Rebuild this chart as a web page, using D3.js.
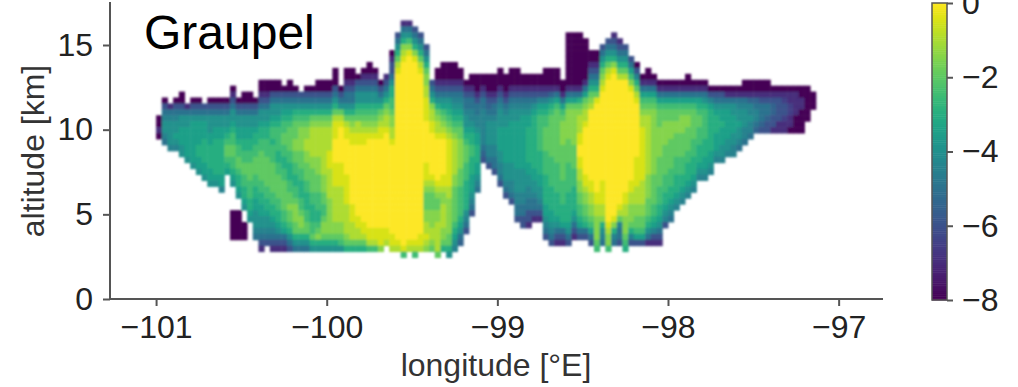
<!DOCTYPE html>
<html>
<head>
<meta charset="utf-8">
<script src="https://cdn.jsdelivr.net/npm/d3@7"></script>
<style>
  html, body { margin: 0; padding: 0; background: #fff; }
  text { font-family: "Liberation Sans", Arial, sans-serif; fill: #333; }
  .axis path, .axis line { stroke: #555; stroke-width: 2; }
  .axis text { font-size: 32px; fill: #222; }
</style>
</head>
<body>
<div id="chart"></div>
<script>
var title = "Graupel";
var xLabel = "longitude [°E]";
var yLabel = "altitude [km]";
var xTicks = [-101, -100, -99, -98, -97];
var yTicks = [0, 5, 10, 15];
var cbTicks = [0, -2, -4, -6, -8];

// cell grid of the section
var firstLon = -101.0;
var lonStep = 0.03333;
var firstAlt = 2.45;
var altStep = 0.35;

// a = -8 ... q = 0, half a unit per letter
var levelCodes = "abcdefghijklmnopq";

// row index above the top of each column
var columnTop = [24,27,26,27,28,26,27,27,26,27,27,27,27,29,27,28,28,27,30,30,30,30,29,30,29,28,29,29,30,30,
  30,32,29,32,32,31,32,33,32,30,31,35,38,40,40,39,38,36,30,32,33,33,33,32,30,31,31,31,31,31,
  32,31,32,32,31,31,31,31,32,32,32,30,38,38,38,37,35,35,36,37,38,37,36,34,33,31,32,31,30,30,
  30,30,30,31,30,30,30,29,29,29,29,29,29,30,30,30,30,30,29,29,29,29,29,29,29,28];

// log mixing ratio down each column, from its top
var columnValues = [
  "aaca","aeghiihg","cghiiiih","aeghiijih","aaegiijjjii","cgiijjjjji","aegijjjjjjji","aegijjjjkkjji",
  "egijjjkkkkjji","aegiiijjkkkkjji","aegiijjkkkkkkji","aegiijjkkkkkkjjh","aegiijklmmlkj","acegiijkllmmllkji",
  "aegiijjkllmmlkkji","aaegiijjkkllmmllkkji","aaegiijjkkllmmmlllkkji","aegiijkkllmmmllkkjjiiihg",
  "aacegiijkkllmmmmmllkkjjiihgec","aacegiijkklllmmmmmllkkjiihge","aaegiijkllklllmmmmmllkkjihgec",
  "aaegiijkllllkkllmmmmllkkjigec","aegijkllmmllkkllmmmmmllkjgec","aaegijklmmmmllkkkllmmnmmlkige",
  "aegiklmmmnnmmllkkllmnnnmmkig","egiklmnnnnmmmllkkkllmnnmkig","aegiklmnnoonnmmmllkkkllmmkig",
  "aegikmnooooonnmmmmllkkkllmki","aaegikmnooooonnnmmmlllkklmnki","aaegikmnoooooooonnnmmllmnnmki",
  "aaegikmnoooopppooooonnnnnnmki","aaaegikmopppqqqqppppoooooonnmki","aegimopqqqqqqppppoooooonnmli",
  "aaceggikmoppqqqqqqpppppooooonmk","aaceggikmnoppqqqqqqqqqqpppooomk","aegiiklmooppqqqqqqqqqqqqppoomk",
  "acegiiklmnoppqqqqqqqqqqqqqppomk","aacegiiklmnopqqqqqqqqqqqqqqqppol","acegiiklmnopqqqqqqqqqqqqqqqppol",
  "aegikmnoppqqqqqqqqqqqqqqqpppn","cegikmnoopqqqqqqqqqqqqqqqqppo","aceegikkllmnnoopqqqqqqqqqqqqqqqppo",
  "egikmopqqqqqqqqqqqqqqqqqqqqqqqqqqqqpo","cgiknopqqqqqqqqqqqqqqqqqqqqqqqqqqqqqqqpl","cgilnpqqqqqqqqqqqqqqqqqqqqqqqqqqqqqqqpo",
  "egiknpqqqqqqqqqqqqqqqqqqqqqqqqqqqqqqpol","egikmopqqqqqqqqqqqqqqqqqqqqqqqqqqqppo",
  "egikmnnooppppqqqqqqqppponmmmnnoopon","egiknooppqqqqqqqponmmmnnnoonm","aacegikmnoopqqqqqqqponmmnnooooom",
  "aaacegijlmnopqqqqqqpponnoooonnmk","aaacegijklmnoppppppppoonnnnnnmmki","aaaceghijklmnoooooonnmmmmmmlkjih",
  "aaceghijklmmnnnnnmmmlllllkjigf","acegghiijklmmmlllkkkkkihge","aacegghhijkkllkkkjjjihge","aaacegghhijjkkkjjihg",
  "aacegghhhhhhgfe","aaacefghiiiihhge","aaacegghiiiihhgge","aaaceghiiijjjjiihhge","aaaceghiijjjjjjiiihge",
  "aaaceghiijjjjjjjiiihhge","aaaceghiijjjjjjjjiiiihhgge","aaceghijjjjjjjjjiiiihhggee","aaceghijjkkkkkkjjiihhggeec",
  "aacegijkkkkkkkkkjjiihggec","aacehjkllllllkkkkjjiihgec","aaacehjkllmmmmllllkkkkkjjihge",
  "aaacfiklmmmmmmmlllllkkkkjjihge","aaacgjlmmmmmmmmmlllllkkkkjigec","aacgjlmnnnnmmmmmmllllkkkjgec",
  "aaaaaaaaacgjmnnnnnmmmmlllllkkkkkjige","aaaaaaaaacgjmnnnnnnmmmmlllkkkkjigec","aaaaaaaaacgkmnoooppqqppoonnmmllkjge",
  "aaaaaaacgjmnoopqqqqqqqqpponnmmlkge","aacegikmnoqqqqqqqqqqqqppoonnmljge","aacegikmpqqqqqqqqqqqqqqqppoonnnnml",
  "egikmnopqqqqqqqqqqqqqqqppppoonkihg",
  "egikmopqqq" + "qqqqqqqqqqqqqqqqqqqq" + "qponnl",
  "cegiknpqqq" + "qqqqqqqqqqqqqqqqqqqq" + "qpnkhg",
  "cegikmoqqq" + "qqqqqqqqqqqqqqqqq" + "qpomhgge",
  "egikmoqqqq" + "qqqqqqqqqqqqqqq" + "ppoonnnmlk",
  "egjlnpqqqq" + "qqqqqqqqqqq" + "ppoonnnmkhe",
  "aehkmopqqq" + "qqqqqqpppp" + "pooonnmmlje",
  "acgjlmnoop" + "ppppppppoo" + "oonnmmlje",
  "aacgjlmnoooooooooonnnnmmmlkigc","acgjlmnnnnnnnnnnnmmmmmllkjhec","acgjlmmmnnnnnmmmmmlllkkjigec",
  "acgjlmmnnnnmmmmmlllkkjihe","acgjlmmnnnmmmmmlllkkjihg","acgjlmmnnmmmmlllkkkjih","acgjlmnnnmmmmlllkkjih",
  "aacgjlmnnmmmmllkkkjih","acgjlmmmmmlllkkkjih","acgjklmmlllkkkjih","acgiklllllkkkjjih","aehjkkkkkkkjjih",
  "aegijkkkjjjih","aegijjkjjjiih","acgijjjjjiih","acgiijjjiihh","acghiijiihg","aacghiiihhg","aacfhhihhg",
  "aacfghhgf","aacegggfe","aaceggfee","aceffeec","aceeeecc","acdeedcc","accddcca","accccaaa","aaccaaaa","aaaaaa","aaa"
];

// the small patch left of the main body
var patchColumns = [13, 14, 15];
var patchBottom = [3, 3, 3];
var patchTop = [8, 8, 6];
var patchValue = -8;

var width = 1018, height = 387;
var margin = {left: 110, right: 135, top: 2, bottom: 88};

var xScale = d3.scaleLinear()
  .domain([-101.27, -96.74])
  .range([margin.left, width - margin.right]);

var yScale = d3.scaleLinear()
  .domain([0, 17.54])
  .range([height - margin.bottom, margin.top]);

var colorScale = d3.scaleSequential(d3.interpolateViridis).domain([-8, 0]);

var minus = function(d) { return String(d).replace("-", "\u2212"); };

var svg = d3.select("#chart").append("svg")
  .attr("width", width)
  .attr("height", height)
  .style("display", "block");

svg.append("defs").append("filter")
  .attr("id", "soft")
  .attr("x", "-5%").attr("y", "-5%")
  .attr("width", "110%").attr("height", "110%")
  .append("feGaussianBlur")
  .attr("stdDeviation", 1.1);

// flatten the columns to cells
var cells = [];
columnValues.forEach(function(col, c) {
  for (var i = 0; i < col.length; i++) {
    cells.push({c: c, r: columnTop[c] - 1 - i, v: levelCodes.indexOf(col[i]) * 0.5 - 8});
  }
});
patchColumns.forEach(function(c, i) {
  for (var r = patchBottom[i]; r < patchTop[i]; r++) {
    cells.push({c: c, r: r, v: patchValue});
  }
});

svg.append("g")
  .attr("filter", "url(#soft)")
  .selectAll("rect")
  .data(cells)
  .enter()
  .append("rect")
  .attr("x", function(d) { return xScale(firstLon + d.c * lonStep); })
  .attr("y", function(d) { return yScale(firstAlt + (d.r + 1) * altStep); })
  .attr("width", xScale(lonStep) - xScale(0) + 0.5)
  .attr("height", yScale(0) - yScale(altStep) + 0.5)
  .attr("fill", function(d) { return colorScale(d.v); });

var xAxis = d3.axisBottom(xScale)
  .tickValues(xTicks)
  .tickFormat(minus)
  .tickSize(7)
  .tickPadding(9);

var yAxis = d3.axisLeft(yScale)
  .tickValues(yTicks)
  .tickSize(7)
  .tickPadding(10);

svg.append("g")
  .attr("class", "axis")
  .attr("transform", "translate(0," + (height - margin.bottom) + ")")
  .call(xAxis)
  .call(function(g) { g.select(".domain").attr("d", "M" + margin.left + ",0H" + (width - margin.right)); });

svg.append("g")
  .attr("class", "axis")
  .attr("transform", "translate(" + margin.left + ",0)")
  .call(yAxis)
  .call(function(g) { g.select(".domain").attr("d", "M0," + margin.top + "V" + (height - margin.bottom)); });

svg.append("text")
  .attr("x", 144)
  .attr("y", 49)
  .style("font-size", "48px")
  .style("fill", "#000")
  .text(title);

svg.append("text")
  .attr("x", 496)
  .attr("y", 376)
  .attr("text-anchor", "middle")
  .style("font-size", "32px")
  .text(xLabel);

svg.append("text")
  .attr("transform", "translate(44,151) rotate(-90)")
  .attr("text-anchor", "middle")
  .style("font-size", "32px")
  .text(yLabel);

// colour bar
var cbScale = d3.scaleLinear().domain([-8, 0]).range([300, 3]);
var cbLeft = 932, cbWidth = 15;

svg.append("g").selectAll("rect")
  .data(d3.range(-8, 0, 0.05))
  .enter()
  .append("rect")
  .attr("x", cbLeft)
  .attr("y", function(d) { return cbScale(d + 0.05); })
  .attr("width", cbWidth)
  .attr("height", cbScale(0) - cbScale(0.05) + 0.5)
  .attr("fill", function(d) { return colorScale(d); });

svg.append("rect")
  .attr("x", cbLeft)
  .attr("y", cbScale(0))
  .attr("width", cbWidth)
  .attr("height", cbScale(-8) - cbScale(0))
  .attr("fill", "none")
  .attr("stroke", "#555")
  .attr("stroke-width", 1.5);

var cbAxis = d3.axisRight(cbScale)
  .tickValues(cbTicks)
  .tickFormat(minus)
  .tickSize(6)
  .tickPadding(9);

svg.append("g")
  .attr("class", "axis")
  .attr("transform", "translate(" + (cbLeft + cbWidth) + ",0)")
  .call(cbAxis)
  .call(function(g) { g.select(".domain").remove(); });
</script>
</body>
</html>
